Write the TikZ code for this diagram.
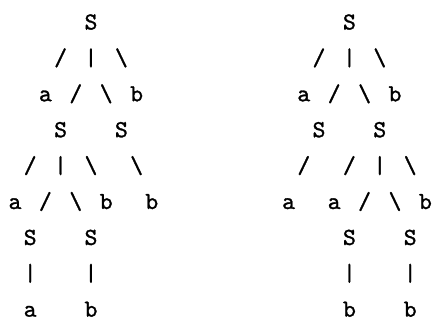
\documentclass[tikz,border=0pt]{standalone}
\usepackage{fontspec}
\newfontfamily\treefont{Latin Modern Mono}[FakeBold=1.2]
\tikzset{
  ch/.style={anchor=base, inner sep=0pt, scale=1.225, transform shape, font=\treefont},
}
\begin{document}
\begin{tikzpicture}[x=7.6pt,y=-17.95pt]
  \useasboundingbox (-7.5pt,14.75pt) rectangle (210pt,-146.25pt);
  % left derivation tree
  \foreach \cc/\rr/\chr in {5/0/S,
      3/1/{/},5/1/|,7/1/\textbackslash,
      2/2/a,4/2/{/},6/2/\textbackslash,8/2/b,
      3/3/S,7/3/S,
      1/4/{/},3/4/|,5/4/\textbackslash,8/4/\textbackslash,
      0/5/a,2/5/{/},4/5/\textbackslash,6/5/b,9/5/b,
      1/6/S,5/6/S,
      1/7/|,5/7/|,
      1/8/a,5/8/b}
    { \node[ch] (l\cc-\rr) at (\cc,\rr) {\chr}; }
  % right derivation tree
  \foreach \cc/\rr/\chr in {22/0/S,
      20/1/{/},22/1/|,24/1/\textbackslash,
      19/2/a,21/2/{/},23/2/\textbackslash,25/2/b,
      20/3/S,24/3/S,
      19/4/{/},22/4/{/},24/4/|,26/4/\textbackslash,
      18/5/a,21/5/a,23/5/{/},25/5/\textbackslash,27/5/b,
      22/6/S,26/6/S,
      22/7/|,26/7/|,
      22/8/b,26/8/b}
    { \node[ch] (r\cc-\rr) at (\cc,\rr) {\chr}; }
\end{tikzpicture}
\end{document}
